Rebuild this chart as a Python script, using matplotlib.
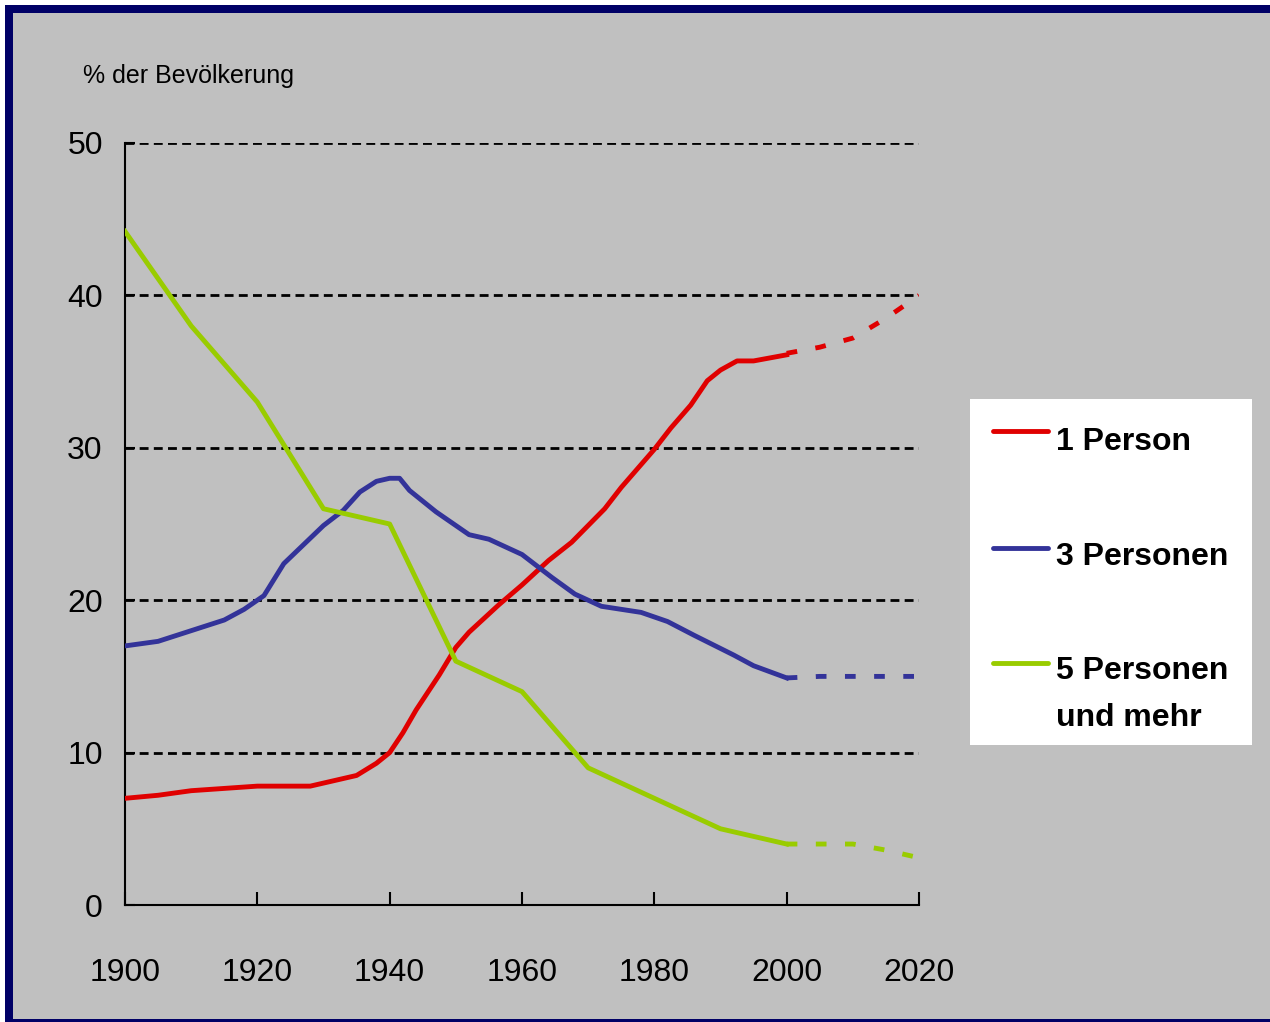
import numpy as np
import matplotlib.pyplot as plt
from matplotlib.patches import Rectangle
from matplotlib.lines import Line2D

plt.rcParams['font.family'] = ['Liberation Sans', 'DejaVu Sans']

# 1 Person
jahre_1 = [1900, 1905, 1910, 1920, 1928, 1932, 1935, 1938, 1940, 1942, 1944, 1947.5, 1950,
           1952, 1956.5, 1960, 1964, 1967.5, 1970, 1972.5, 1975, 1980, 1982.5, 1985.5,
           1988, 1990, 1992.5, 1995, 2000]
werte_1 = [7.0, 7.2, 7.5, 7.8, 7.8, 8.2, 8.5, 9.3, 10.0, 11.3, 12.8, 15.1, 16.9,
           17.9, 19.7, 21.0, 22.6, 23.8, 24.9, 26.0, 27.4, 29.9, 31.3, 32.8,
           34.4, 35.1, 35.7, 35.7, 36.1]
prog_jahre = [2000, 2005, 2010, 2015, 2020]
prog_1 = [36.2, 36.6, 37.2, 38.5, 40.0]

# 3 Personen
jahre_3 = [1900, 1905, 1910, 1915, 1918, 1921, 1924, 1930, 1933, 1935.5, 1938, 1940, 1941.5,
           1943, 1947, 1952, 1955, 1960, 1964.5, 1968, 1972, 1978, 1982, 1986, 1992,
           1995, 2000]
werte_3 = [17.0, 17.3, 18.0, 18.7, 19.4, 20.3, 22.4, 24.9, 25.9, 27.1, 27.8, 28.0, 28.0,
           27.2, 25.8, 24.3, 24.0, 23.0, 21.5, 20.4, 19.6, 19.2, 18.6, 17.7, 16.4,
           15.7, 14.9]
prog_3 = [14.9, 15.0, 15.0, 15.0, 15.0]

# 5 Personen und mehr
jahre_5 = [1900, 1910, 1920, 1930, 1940, 1950, 1960, 1970, 1980, 1990, 2000]
werte_5 = [44.2, 38.0, 33.0, 26.0, 25.0, 16.0, 14.0, 9.0, 7.0, 5.0, 4.0]
prog_5 = [4.0, 4.0, 4.0, 3.6, 3.1]

farben = ['#E00000', '#333399', '#99CC00']
labels = ['1 Person', '3 Personen', '5 Personen']

W, H = 1270, 1022
fig = plt.figure(figsize=(W / 100, H / 100), dpi=100, facecolor='white')

# frame
fig.patches.append(Rectangle((5 / W, 0), 1, 1 - 5 / H, transform=fig.transFigure,
                             facecolor='#000066', edgecolor='none', zorder=-2))
fig.patches.append(Rectangle((13 / W, 3 / H), 1, 1 - 16 / H, transform=fig.transFigure,
                             facecolor='#C0C0C0', edgecolor='none', zorder=-1))

ax = fig.add_axes([125 / W, 117 / H, 794 / W, 762 / H])
ax.set_facecolor('none')

lw = 3.5
ax.plot(jahre_1, werte_1, color=farben[0], lw=lw, solid_joinstyle='round', zorder=3)
ax.plot(jahre_3, werte_3, color=farben[1], lw=lw, solid_joinstyle='round', zorder=3)
ax.plot(jahre_5, werte_5, color=farben[2], lw=lw, solid_joinstyle='round', zorder=3)
for p, c in zip([prog_1, prog_3, prog_5], farben):
    ax.plot(prog_jahre, p, color=c, lw=lw, linestyle=(0, (2.2, 3.8)), zorder=3)

ax.set_xlim(1900, 2020)
ax.set_ylim(0, 50)
ax.set_xticks(np.arange(1900, 2021, 20))
ax.set_yticks(np.arange(0, 51, 10))
ax.yaxis.grid(True, color='black', lw=2.0, linestyle=(0, (3.2, 1.9)))
ax.set_axisbelow(True)
for s in ['top', 'right']:
    ax.spines[s].set_visible(False)
for s in ['left', 'bottom']:
    ax.spines[s].set_linewidth(1.5)
ax.tick_params(axis='x', direction='in', length=9.5, width=1.5, labelsize=23, pad=38)
ax.tick_params(axis='y', direction='in', length=7, width=1.5, labelsize=23, pad=16)

fig.text(83 / W, 1 - 76 / H, '% der Bevölkerung', fontsize=18, ha='left', va='center')

# legend box
fig.patches.append(Rectangle((970 / W, 1 - 745 / H), 282 / W, 346 / H, transform=fig.transFigure,
                             facecolor='white', edgecolor='none', zorder=1))
for y_line, y_txt, c, lab in zip([431, 548, 663], [450, 565, 679], farben, labels):
    fig.add_artist(Line2D([993 / W, 1048 / W], [1 - y_line / H] * 2, transform=fig.transFigure,
                          color=c, lw=3.5, solid_capstyle='round', zorder=2))
    fig.text(1056 / W, 1 - y_txt / H, lab, fontsize=23, fontweight='bold', ha='left',
             va='baseline', zorder=2)
fig.text(1056 / W, 1 - 726 / H, 'und mehr', fontsize=23, fontweight='bold', ha='left',
         va='baseline', zorder=2)

fig.savefig('out.png', dpi=100, facecolor=fig.get_facecolor())
